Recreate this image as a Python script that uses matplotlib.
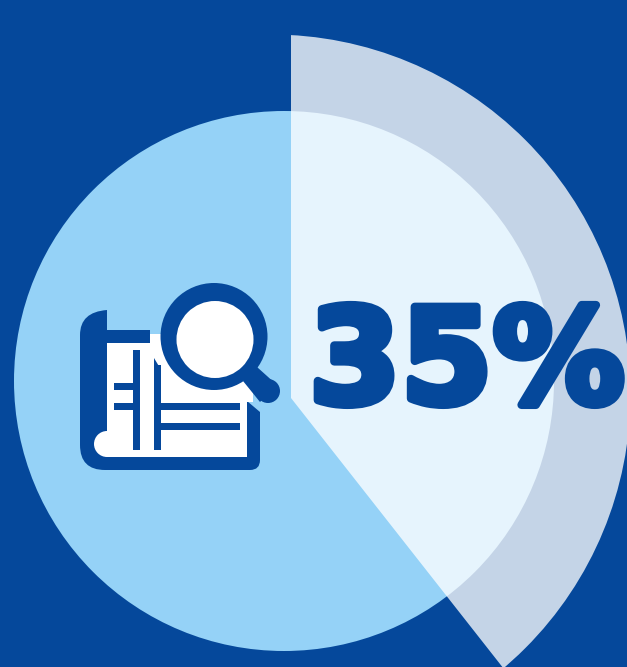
import matplotlib
matplotlib.use("Agg")
import matplotlib.pyplot as plt
from matplotlib.patches import Circle, Wedge, Polygon, PathPatch, Rectangle
from matplotlib.path import Path
import matplotlib.patheffects as pe

value_label = "35%"
drawn_share = [39.4]   # share of the turn that the pale wedge covers in the picture

BG = "#05489B"
LIGHT = "#95D2F7"
WHITE = "#FFFFFF"

fig = plt.figure(figsize=(6.27, 6.67), dpi=100, facecolor=BG)
ax = fig.add_axes([0, 0, 1, 1])
ax.set_xlim(0, 627)
ax.set_ylim(667, 0)
ax.axis("off")

ax.add_patch(Circle((284, 381), 270, fc=LIGHT, ec="none", zorder=1))

wedge = Wedge((291, 398), 700, -90, -90 + drawn_share[0] * 3.6, fc=WHITE, ec="none", alpha=0.77, zorder=2)
ax.add_patch(wedge)
wedge.set_clip_path(Circle((271, 394), 359.5, transform=ax.transData))

ax.text(309, 403, value_label, fontsize=95, color=BG, family="DejaVu Sans", fontweight="bold",
        ha="left", va="baseline", zorder=6,
        path_effects=[pe.withStroke(linewidth=6, foreground=BG)])

# blueprint icon
C, L, M, Z = Path.CURVE3, Path.LINETO, Path.MOVETO, Path.CLOSEPOLY
body = [((107, 310), M), ((80, 312), C), ((80, 335), C), ((80, 445), L), ((80, 470), C), ((105, 470), C),
        ((250, 470), L), ((260, 470), C), ((260, 460), C), ((260, 412), L), ((247, 401), L),
        ((150, 343), L), ((150, 330), L), ((107, 330), L), ((107, 310), L), ((107, 310), Z)]
v, c = zip(*body)
ax.add_patch(PathPatch(Path(v, c), fc=BG, ec="none", zorder=3))
ax.add_patch(Polygon([(107, 343), (150, 343), (150, 334), (165, 334), (253, 350), (253, 402),
                      (247, 402), (247, 457), (107, 457)], fc=WHITE, ec="none", zorder=3.2))
ax.add_patch(Circle((107, 444), 13, fc=WHITE, ec="none", zorder=3.2))

for x0, y0, w, h in [(133, 350, 7, 100), (154, 365, 6.5, 85), (114, 383, 19, 7), (114, 403, 19, 7),
                     (160, 403, 80, 7), (160, 423, 80, 7)]:
    ax.add_patch(Rectangle((x0, y0), w, h, fc=BG, ec="none", zorder=3.5))
ax.add_patch(Polygon([(154, 358), (160, 368), (154, 368)], fc=BG, ec="none", zorder=3.5))

# magnifier
ax.add_patch(Polygon([(257, 367), (243, 381), (260, 402), (277, 385)], fc=BG, ec="none", zorder=4))
ax.add_patch(Circle((268, 391), 12, fc=BG, ec="none", zorder=4))
ax.add_patch(Circle((214, 336.5), 53.5, fc=BG, ec="none", zorder=4.2))
ax.add_patch(Circle((215, 339.5), 38.5, fc=WHITE, ec="none", zorder=4.3))

fig.savefig("out.png", dpi=100, facecolor=BG)
